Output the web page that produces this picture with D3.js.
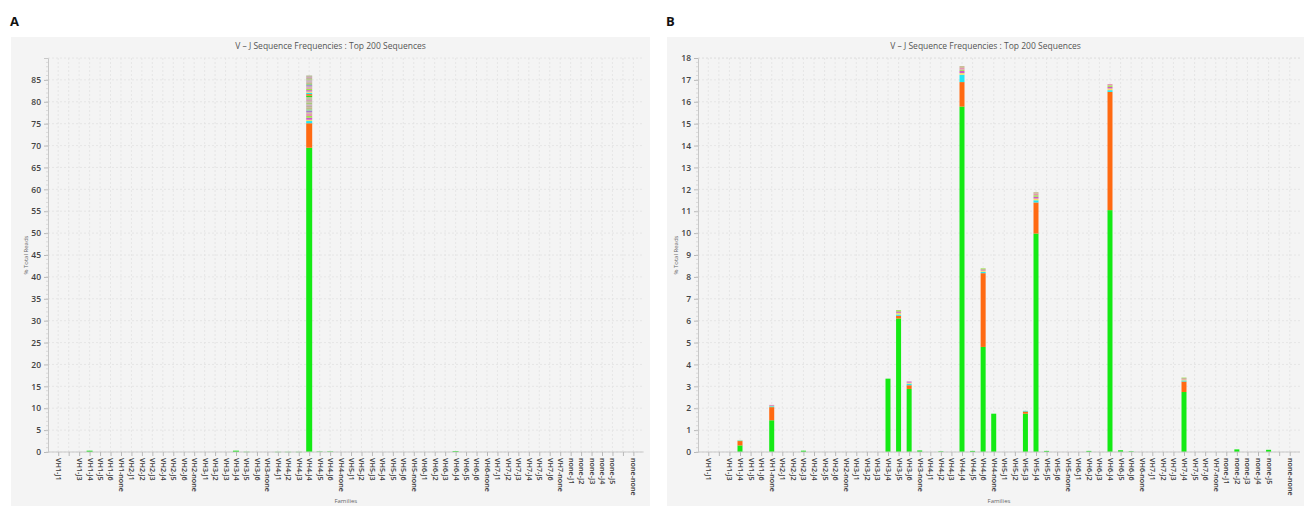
<!DOCTYPE html>
<html>
<head>
<meta charset="utf-8">
<script src="https://cdn.jsdelivr.net/npm/d3@7"></script>
<style>
  body { margin: 0; background: #fff; }
  text { font-family: "Open Sans", "DejaVu Sans", sans-serif; }
</style>
</head>
<body>
<svg width="1304" height="506"></svg>
<script>
// V-J family categories (x axis)
const families = [
  "VH1-J1", "VH1-J2", "VH1-J3", "VH1-J4", "VH1-J5", "VH1-J6", "VH1-none",
  "VH2-J1", "VH2-J2", "VH2-J3", "VH2-J4", "VH2-J5", "VH2-J6", "VH2-none",
  "VH3-J1", "VH3-J2", "VH3-J3", "VH3-J4", "VH3-J5", "VH3-J6", "VH3-none",
  "VH4-J1", "VH4-J2", "VH4-J3", "VH4-J4", "VH4-J5", "VH4-J6", "VH4-none",
  "VH5-J1", "VH5-J2", "VH5-J3", "VH5-J4", "VH5-J5", "VH5-J6", "VH5-none",
  "VH6-J1", "VH6-J2", "VH6-J3", "VH6-J4", "VH6-J5", "VH6-J6", "VH6-none",
  "VH7-J1", "VH7-J2", "VH7-J3", "VH7-J4", "VH7-J5", "VH7-J6", "VH7-none",
  "none-J1", "none-J2", "none-J3", "none-J4", "none-J5", "none-J6", "none-none"
];
// labels the chart did not print
const hiddenLabels = ["VH1-J2", "none-J6"];

// segment colours, bottom to top inside each bar
const segColors = ["#14ea14", "#ff6a12", "#22e6f2", "#f2e06a", "#d258c4", "#9ce24c",
  "#e892b4", "#c8b890", "#a878d2", "#86d486", "#c8b48c", "#b8b29a", "#c49ac0", "#a8c878",
  "#bdb59a", "#d0a0b8", "#b4b494", "#c2bc9c"];

// panel A: families with reads, and stacked % of reads per sequence
const aFamilies = ["VH1-J4", "VH3-J4", "VH3-J5", "VH4-J1", "VH4-J2", "VH4-J3", "VH4-J4", "VH4-J5", "VH4-J6", "VH6-J4"];
const aReads = [
  [0.3], [0.3], [0.05], [0.04], [0.04], [0.04],
  [69.5, 5.6, 0.5, 0.3, 0.45, 0.4, 0.5, 0.35, 0.4, 0.3, 0.45, 0.35, 0.3, 0.4, 0.35, 0.3, 0.35,
   0.3, 0.3, 0.35, 0.3, 0.3, 0.3, 0.3, 0.25, 0.3, 0.3, 0.25, 0.3, 0.25, 0.3, 0.25, 0.3, 0.25, 0.3],
  [0.1], [0.12], [0.2]
];
const aTicks = [0, 5, 10, 15, 20, 25, 30, 35, 40, 45, 50, 55, 60, 65, 70, 75, 80, 85];

// panel B
const bFamilies = ["VH1-J4", "VH1-none", "VH2-J3", "VH3-J4", "VH3-J5", "VH3-J6", "VH3-none", "VH4-J2",
  "VH4-J4", "VH4-J5", "VH4-J6", "VH4-none", "VH5-J3", "VH5-J4", "VH5-J5", "VH6-J2", "VH6-J4",
  "VH6-J5", "VH6-J6", "VH7-J4", "none-J2", "none-J5"];
const bReads = [
  [0.3, 0.2, 0.03, 0.02],
  [1.45, 0.6, 0.04, 0.03, 0.03],
  [0.06],
  [3.35],
  [6.1, 0.12, 0.06, 0.08, 0.06, 0.06],
  [2.88, 0.17, 0.07, 0.05, 0.05],
  [0.07],
  [0.03],
  [15.78, 1.12, 0.33, 0.08, 0.1, 0.06, 0.08, 0.08],
  [0.05],
  [4.8, 3.37, 0.06, 0.06, 0.05, 0.05],
  [1.75],
  [1.75, 0.1, 0.03],
  [9.98, 1.42, 0.1, 0.08, 0.08, 0.07, 0.07, 0.07],
  [0.05],
  [0.05],
  [11.05, 5.4, 0.08, 0.08, 0.07, 0.07, 0.06],
  [0.08],
  [0.03],
  [2.74, 0.48, 0.05, 0.05, 0.04, 0.04],
  [0.12],
  [0.1]
];
const bTicks = d3.range(0, 19);

const svg = d3.select("svg");

function drawPanel(p) {
  const g = svg.append("g");

  g.append("rect")
    .attr("x", p.bx).attr("y", 37).attr("width", p.bw).attr("height", 469)
    .attr("fill", "#f4f4f4");

  g.append("text")
    .attr("x", p.bx - 1).attr("y", 26)
    .attr("font-size", 13).attr("font-weight", "bold").attr("fill", "#111")
    .text(p.letter);

  g.append("text")
    .attr("x", p.bx + p.bw / 2).attr("y", 49)
    .attr("text-anchor", "middle").attr("font-size", 8.5).attr("fill", "#555")
    .text("V \u2013 J Sequence Frequencies : Top 200 Sequences");

  const top = 58, bottom = 452;
  const x = d3.scalePoint().domain(families).range([p.left + 5, p.right - 5]).padding(0.5);
  const y = d3.scaleLinear().domain([0, p.max]).range([bottom, top]);

  // grid
  g.append("g").selectAll("line").data(families).join("line")
    .attr("x1", d => x(d)).attr("x2", d => x(d))
    .attr("y1", top).attr("y2", bottom)
    .attr("stroke", "#e2e2e2").attr("stroke-width", 0.8).attr("stroke-dasharray", "2,2");
  g.append("g").selectAll("line").data(p.ticks.concat([p.max])).join("line")
    .attr("x1", p.left).attr("x2", p.right)
    .attr("y1", d => y(d)).attr("y2", d => y(d))
    .attr("stroke", "#e2e2e2").attr("stroke-width", 0.8).attr("stroke-dasharray", "2,2");

  // stacked bars
  const maxSegs = d3.max(p.reads, r => r.length);
  const keys = d3.range(maxSegs);
  const rows = p.fams.map((f, i) => {
    const row = { fam: f };
    keys.forEach(k => { row[k] = p.reads[i][k] || 0; });
    return row;
  });
  const series = d3.stack().keys(keys)(rows);
  g.append("g").selectAll("g").data(series).join("g")
    .attr("fill", d => segColors[d.key % segColors.length])
    .selectAll("rect").data(d => d.filter(s => s[1] > s[0])).join("rect")
    .attr("x", d => x(d.data.fam) - p.barW / 2)
    .attr("width", p.barW)
    .attr("y", d => y(d[1]))
    .attr("height", d => Math.max(0.4, y(d[0]) - y(d[1])));

  // y axis
  const ya = g.append("g").attr("transform", `translate(${p.left},0)`)
    .call(d3.axisLeft(y).tickValues(p.ticks).tickSize(4).tickPadding(3));
  ya.select(".domain").attr("stroke", "#c8c8c8");
  ya.selectAll(".tick line").attr("stroke", "#b8b8b8");
  ya.selectAll(".tick text").attr("font-size", 8.5).attr("font-weight", 600).attr("fill", "#444");
  g.append("g").selectAll("line").data(p.minor).join("line")
    .attr("x1", p.left - 2).attr("x2", p.left)
    .attr("y1", d => y(d)).attr("y2", d => y(d))
    .attr("stroke", "#cfcfcf").attr("stroke-width", 0.7);

  // x axis
  const xa = g.append("g").attr("transform", `translate(0,${bottom})`)
    .call(d3.axisBottom(x).tickSize(4).tickFormat(d => hiddenLabels.includes(d) ? "" : d));
  xa.select(".domain").attr("stroke", "#c8c8c8").attr("d", `M${p.left},0H${p.right}`);
  xa.selectAll(".tick line").attr("stroke", "#b8b8b8");
  xa.selectAll(".tick text")
    .attr("font-size", 7.2).attr("font-weight", 600).attr("fill", "#3a3a3a")
    .attr("text-anchor", "start")
    .attr("transform", "translate(0,2) rotate(90)")
    .attr("x", 4).attr("y", 0).attr("dy", "0.35em");

  g.append("text")
    .attr("transform", `translate(${p.left - 20},${(top + bottom) / 2}) rotate(-90)`)
    .attr("text-anchor", "middle").attr("font-size", 6).attr("fill", "#666")
    .text("% Total Reads");
  g.append("text")
    .attr("x", (p.left + p.right) / 2).attr("y", 503)
    .attr("text-anchor", "middle").attr("font-size", 6).attr("fill", "#666")
    .text("Families");
}

drawPanel({
  letter: "A", bx: 11, bw: 639, left: 48, right: 643.6, max: 90,
  ticks: aTicks, minor: d3.range(0, 90, 1), fams: aFamilies, reads: aReads, barW: 6
});
drawPanel({
  letter: "B", bx: 667, bw: 637, left: 698, right: 1300, max: 18,
  ticks: bTicks, minor: d3.range(0, 18, 0.2), fams: bFamilies, reads: bReads, barW: 5
});
</script>
</body>
</html>
